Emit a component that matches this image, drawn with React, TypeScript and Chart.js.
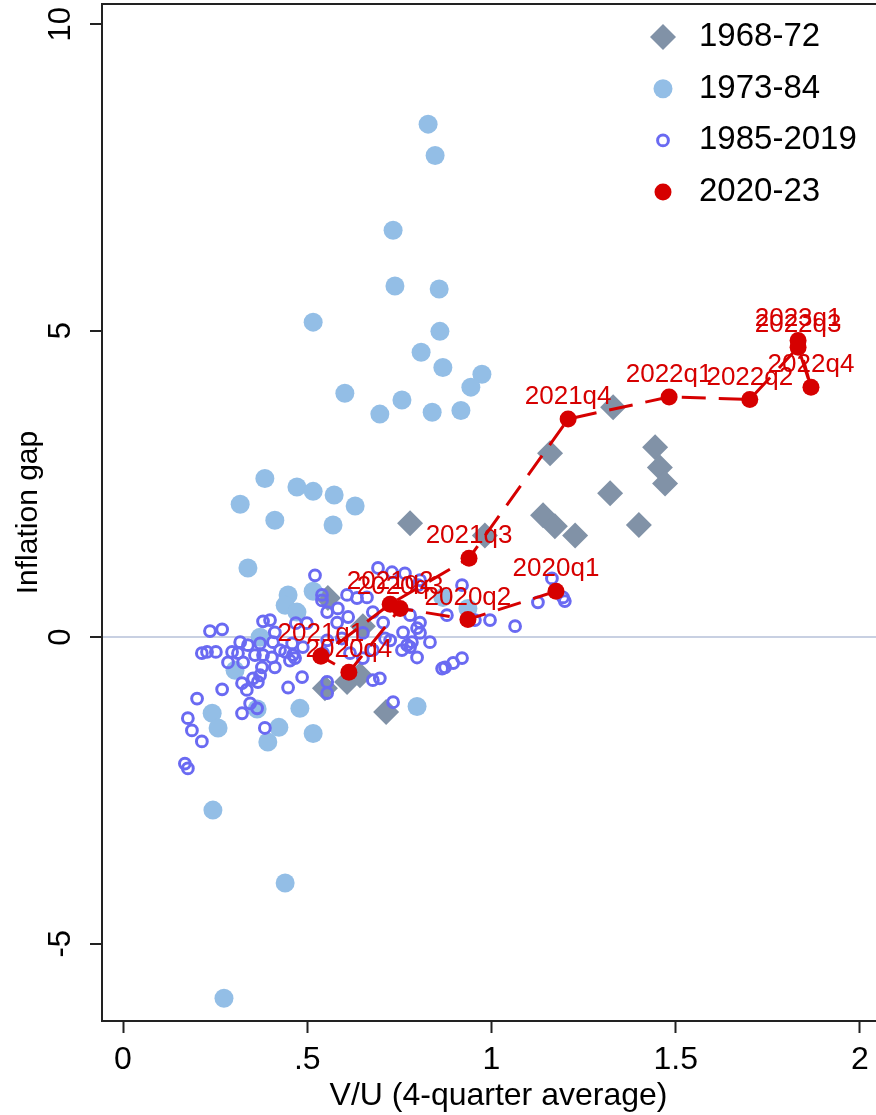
import React, { useEffect, useRef } from 'react';
import { Chart, registerables } from 'chart.js';

Chart.register(...registerables);

// ---------- axis ticks ----------
const xTicks = [0, 0.5, 1, 1.5, 2];
const xTickLabels = ['0', '.5', '1', '1.5', '2'];
const yTicks = [-5, 0, 5, 10];
const yTickLabels = ['-5', '0', '5', '10'];

// ---------- series names ----------
const seriesNames = ['1968-72', '1973-84', '1985-2019', '2020-23'];

// ---------- 1968-72 (diamonds) ----------
const x6872 = [1.330, 1.159, 1.444, 1.457, 1.471, 1.322, 1.140, 1.172, 1.227, 1.400, 0.982, 0.779, 0.556, 0.651, 0.643, 0.608, 0.548, 0.714];
const y6872 = [3.75, 3.00, 3.10, 2.77, 2.51, 2.35, 1.99, 1.81, 1.66, 1.83, 1.66, 1.86, 0.64, 0.18, -0.62, -0.73, -0.83, -1.22];

// ---------- 1973-84 (light blue dots) ----------
const x7384 = [0.828, 0.847, 0.733, 0.738, 0.858, 0.516, 0.860, 0.809, 0.868, 0.974, 0.944, 0.602, 0.757, 0.697, 0.839, 0.917,
  0.385, 0.472, 0.516, 0.573, 0.318, 0.630, 0.412, 0.570, 0.339, 0.448, 0.516, 0.440, 0.472, 0.372, 0.304,
  0.242, 0.258, 0.364, 0.480, 0.423, 0.393, 0.516, 0.798, 0.244, 0.440, 0.274, 0.936, 0.868];
const y7384 = [8.37, 7.86, 6.64, 5.73, 5.68, 5.14, 4.99, 4.65, 4.40, 4.29, 4.08, 3.98, 3.87, 3.64, 3.67, 3.70,
  2.59, 2.45, 2.38, 2.32, 2.17, 2.14, 1.91, 1.83, 1.13, 0.69, 0.75, 0.52, 0.41, 0.00, -0.54,
  -1.24, -1.48, -1.17, -1.16, -1.47, -1.71, -1.57, -1.13, -2.82, -4.01, -5.89, 0.47, 0.65];

// ---------- 1985-2019 (hollow circles) ----------
const x8519 = [0.236, 0.269, 0.318, 0.339, 0.214, 0.228, 0.252, 0.285, 0.296, 0.312, 0.326, 0.358, 0.380, 0.404, 0.377, 0.412,
  0.372, 0.353, 0.366, 0.323, 0.336, 0.269, 0.201, 0.345, 0.364, 0.323, 0.176, 0.187, 0.214, 0.385, 0.168, 0.176,
  0.380, 0.399, 0.412, 0.407, 0.440, 0.461, 0.467, 0.448, 0.486, 0.554, 0.554, 0.426, 0.459, 0.488, 0.469, 0.499,
  0.543, 0.678, 0.697, 0.733, 0.798, 0.866, 0.874, 0.896, 0.920, 0.760, 0.798, 0.806, 0.833, 0.779, 0.757,
  0.692, 0.730, 0.765, 0.801, 0.920, 0.608, 0.635, 0.662, 0.583, 0.581, 0.678, 0.706, 0.779, 0.879, 0.996, 1.064,
  0.771, 0.725, 0.651, 0.678, 0.651, 0.616, 0.955, 0.521, 0.540, 0.540, 0.554, 0.806, 1.126, 1.164, 1.194, 1.199,
  0.372, 0.453, 0.711, 0.611, 0.594, 0.554, 0.784, 0.806];
const y8519 = [0.10, 0.13, -0.08, -0.13, -0.26, -0.24, -0.24, -0.41, -0.24, -0.26, -0.41, -0.29, -0.29, -0.33, -0.49, -0.49,
  -0.62, -0.67, -0.73, -0.75, -0.86, -0.85, -1.00, -1.08, -1.16, -1.24, -1.32, -1.52, -1.70, -1.48, -2.06, -2.14,
  0.26, 0.28, 0.08, -0.08, -0.24, -0.29, -0.34, -0.82, -0.65, -0.73, -0.91, -0.21, -0.10, -0.16, 0.23, 0.23,
  -0.26, -0.70, -0.67, -1.06, -0.33, -0.51, -0.49, -0.42, -0.34, 0.08, 0.15, 0.07, -0.08, -0.16, -0.21,
  1.13, 1.06, 1.04, 0.85, 0.85, 0.69, 0.64, 0.65, 0.47, 0.24, 0.41, 0.24, 0.36, 0.36, 0.28, 0.18,
  -0.13, -0.05, 0.07, -0.21, -0.34, -0.26, 0.28, 1.01, 0.69, 0.60, 0.41, 0.93, 0.57, 0.96, 0.65, 0.59,
  -0.10, -0.38, -0.02, 0.33, -0.02, -0.05, -0.08, 0.24];

// ---------- 2020-23 (red, connected, labelled) ----------
const labels2023 = ['2020q1', '2020q2', '2020q3', '2020q4', '2021q1', '2021q2', '2021q3', '2021q4', '2022q1', '2022q2', '2022q3', '2022q4', '2023q1'];
const x2023 = [1.175, 0.936, 0.752, 0.613, 0.537, 0.725, 0.939, 1.208, 1.482, 1.701, 1.832, 1.867, 1.832];
const y2023 = [0.75, 0.29, 0.47, -0.57, -0.31, 0.54, 1.29, 3.56, 3.92, 3.88, 4.73, 4.08, 4.84];

const FONT = "'Liberation Sans', Arial, Helvetica, sans-serif";
const RED = '#d60000';
const GRAY = '#8192a7';
const LIGHTBLUE = '#93bee6';
const PURPLE = '#6a6af2';

const toPoints = (xs: number[], ys: number[]) => xs.map((x, i) => ({ x, y: ys[i] }));

function drawMarker(ctx: CanvasRenderingContext2D, ds: any, x: number, y: number) {
  const r = ds.pointRadius;
  ctx.save();
  ctx.beginPath();
  if (ds.pointStyle === 'rectRot') {
    ctx.moveTo(x - r, y);
    ctx.lineTo(x, y - r);
    ctx.lineTo(x + r, y);
    ctx.lineTo(x, y + r);
    ctx.closePath();
  } else {
    ctx.arc(x, y, r, 0, Math.PI * 2);
  }
  ctx.fillStyle = ds.pointBackgroundColor;
  ctx.fill();
  if (ds.pointBorderWidth > 0) {
    ctx.lineWidth = ds.pointBorderWidth;
    ctx.strokeStyle = ds.pointBorderColor;
    ctx.stroke();
  }
  ctx.restore();
}

const zeroPadding = (s: any) => {
  s.paddingTop = 0;
  s.paddingBottom = 0;
  s.paddingLeft = 0;
  s.paddingRight = 0;
};

const framePlugin = {
  id: 'frameTop',
  beforeDatasetsDraw(chart: any) {
    const { ctx, chartArea } = chart;
    ctx.save();
    ctx.strokeStyle = '#222';
    ctx.lineWidth = 2;
    ctx.beginPath();
    ctx.moveTo(chartArea.left - 1, chartArea.top);
    ctx.lineTo(chartArea.right, chartArea.top);
    ctx.stroke();
    ctx.restore();
  },
};

const pointLabelPlugin = {
  id: 'pointLabels',
  afterDatasetsDraw(chart: any) {
    const { ctx } = chart;
    const meta = chart.getDatasetMeta(3);
    ctx.save();
    ctx.font = `26px ${FONT}`;
    ctx.fillStyle = RED;
    ctx.textAlign = 'center';
    ctx.textBaseline = 'middle';
    meta.data.forEach((el: any, i: number) => {
      ctx.fillText(labels2023[i], el.x, el.y - 22);
    });
    ctx.restore();
  },
};

const legendPlugin = {
  id: 'stataLegend',
  afterDraw(chart: any) {
    const { ctx } = chart;
    const markerX = 663;
    const textX = 699;
    const y0 = 37;
    const step = 51.7;
    ctx.save();
    chart.data.datasets.forEach((ds: any, i: number) => {
      const y = y0 + i * step;
      drawMarker(ctx, ds, markerX, y);
      ctx.font = `33px ${FONT}`;
      ctx.fillStyle = '#000';
      ctx.textAlign = 'left';
      ctx.textBaseline = 'middle';
      ctx.fillText(ds.label, textX, y);
    });
    ctx.restore();
  },
};

export default function App() {
  const canvasRef = useRef<HTMLCanvasElement | null>(null);

  useEffect(() => {
    if (!canvasRef.current) return;
    const chart = new Chart(canvasRef.current, {
      type: 'scatter',
      data: {
        datasets: [
          {
            label: seriesNames[0],
            data: toPoints(x6872, y6872),
            pointStyle: 'rectRot',
            pointRadius: 13,
            pointBackgroundColor: GRAY,
            pointBorderColor: GRAY,
            pointBorderWidth: 0,
            order: 4,
          },
          {
            label: seriesNames[1],
            data: toPoints(x7384, y7384),
            pointStyle: 'circle',
            pointRadius: 9.5,
            pointBackgroundColor: LIGHTBLUE,
            pointBorderColor: LIGHTBLUE,
            pointBorderWidth: 0,
            order: 3,
          },
          {
            label: seriesNames[2],
            data: toPoints(x8519, y8519),
            pointStyle: 'circle',
            pointRadius: 5.4,
            pointBackgroundColor: 'rgba(0,0,0,0)',
            pointBorderColor: PURPLE,
            pointBorderWidth: 3,
            order: 2,
          },
          {
            label: seriesNames[3],
            data: toPoints(x2023, y2023),
            showLine: true,
            borderColor: RED,
            borderWidth: 3,
            borderDash: [24, 13],
            pointStyle: 'circle',
            pointRadius: 8.5,
            pointBackgroundColor: RED,
            pointBorderColor: RED,
            pointBorderWidth: 0,
            order: 1,
          },
        ] as any,
      },
      options: {
        animation: false,
        responsive: false,
        devicePixelRatio: 1,
        layout: { autoPadding: false, padding: { top: 4, right: 5, left: 0, bottom: 0 } },
        plugins: {
          legend: { display: false },
          tooltip: { enabled: false },
        },
        scales: {
          x: {
            type: 'linear',
            min: -0.057,
            max: 2.095,
            afterBuildTicks: (s: any) => {
              s.ticks = xTicks.map((v) => ({ value: v }));
            },
            afterFit: (s: any) => {
              s.height = 94;
              zeroPadding(s);
            },
            ticks: {
              callback: (v: any) => xTickLabels[xTicks.indexOf(Number(v))],
              font: { family: FONT, size: 32 },
              color: '#000',
              padding: 8,
              maxRotation: 0,
              minRotation: 0,
            },
            grid: {
              drawOnChartArea: false,
              tickLength: 12,
              tickColor: '#222',
              tickWidth: 2,
            },
            border: { display: true, color: '#222', width: 2 },
            title: {
              display: true,
              text: 'V/U (4-quarter average)',
              font: { family: FONT, size: 32 },
              color: '#000',
              padding: { top: 0, bottom: 0 },
            },
          },
          y: {
            type: 'linear',
            min: -6.26,
            max: 10.33,
            afterBuildTicks: (s: any) => {
              s.ticks = yTicks.map((v) => ({ value: v }));
            },
            afterFit: (s: any) => {
              s.width = 102;
              zeroPadding(s);
            },
            ticks: {
              callback: (v: any) => yTickLabels[yTicks.indexOf(Number(v))],
              font: { family: FONT, size: 31 },
              color: '#000',
              padding: 11,
              minRotation: 90,
              maxRotation: 90,
              crossAlign: 'center',
            },
            grid: {
              color: (c: any) => (c.tick && c.tick.value === 0 ? '#c8d0e2' : 'rgba(0,0,0,0)'),
              lineWidth: 2,
              tickLength: 12,
              tickColor: '#222',
              tickWidth: 2,
            },
            border: { display: true, color: '#222', width: 2 },
            title: {
              display: true,
              text: 'Inflation gap',
              font: { family: FONT, size: 30 },
              color: '#000',
              padding: { top: 11, bottom: 0 },
            },
          },
        },
      } as any,
      plugins: [framePlugin, pointLabelPlugin, legendPlugin],
    });
    return () => chart.destroy();
  }, []);

  return (
    <div style={{ position: 'fixed', left: 0, top: 0, width: 876, height: 1115, overflow: 'hidden', background: '#fff' }}>
      <canvas ref={canvasRef} width={900} height={1115} style={{ width: 900, height: 1115, display: 'block' }} />
    </div>
  );
}
